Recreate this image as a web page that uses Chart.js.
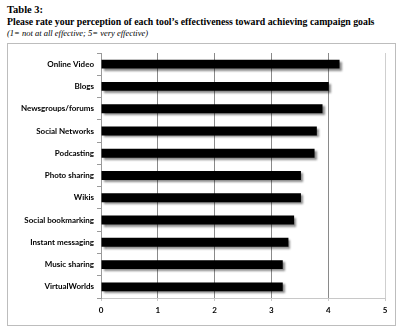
<!DOCTYPE html>
<html>
<head>
<meta charset="utf-8">
<script src="https://cdn.jsdelivr.net/npm/chart.js@4"></script>
<style>
  body { margin: 0; background: #fff; width: 400px; height: 331px; position: relative; overflow: hidden; }
  .hdr { position: absolute; left: 7px; font-family: "Liberation Serif", "DejaVu Serif", serif; color: #000; white-space: nowrap; }
  #t1 { top: 4px; font-size: 10.5px; font-weight: bold; }
  #t2 { top: 16px; font-size: 10.5px; font-weight: bold; }
  #t3 { top: 28px; font-size: 8.5px; font-style: italic; }
  #box { position: absolute; left: 7px; top: 43px; width: 387px; height: 281px; border: 1px solid #bdbdbd; }
</style>
</head>
<body>
<div class="hdr" id="t1">Table 3:</div>
<div class="hdr" id="t2">Please rate your perception of each tool’s effectiveness toward achieving campaign goals</div>
<div class="hdr" id="t3">(1= not at all effective; 5= very effective)</div>
<div id="box"><canvas id="chart" width="387" height="281"></canvas></div>
<script>
const tools = ['Online Video', 'Blogs', 'Newsgroups/forums', 'Social Networks', 'Podcasting',
  'Photo sharing', 'Wikis', 'Social bookmarking', 'Instant messaging', 'Music sharing', 'VirtualWorlds'];
const ratings = [4.2, 4.01, 3.9, 3.8, 3.76, 3.52, 3.52, 3.4, 3.3, 3.2, 3.2];
const scaleTicks = [0, 1, 2, 3, 4, 5];

// soft drop shadow under the bars, like the spreadsheet original
const barShadow = {
  id: 'barShadow',
  beforeDatasetsDraw(chart) {
    const ctx = chart.ctx;
    ctx.save();
    ctx.shadowColor = 'rgba(0,0,0,0.45)';
    ctx.shadowBlur = 2;
    ctx.shadowOffsetX = 2;
    ctx.shadowOffsetY = 2;
  },
  afterDatasetsDraw(chart) {
    chart.ctx.restore();
  }
};

const labelFont = { family: 'Lato, "Open Sans", sans-serif', size: 8, weight: 'bold' };

// fit the bold heading to the width it has in the original
const t2 = document.getElementById('t2');
const w = t2.getBoundingClientRect().width;
if (w > 0) t2.style.fontSize = (10.5 * 368 / w).toFixed(2) + 'px';

new Chart(document.getElementById('chart'), {
  type: 'bar',
  data: {
    labels: tools,
    datasets: [{
      data: ratings,
      backgroundColor: '#000',
      borderWidth: 0,
      barPercentage: 0.4,
      categoryPercentage: 1
    }]
  },
  options: {
    indexAxis: 'y',
    responsive: false,
    animation: false,
    layout: { padding: { top: 9, right: 10, left: 0, bottom: 0 } },
    plugins: { legend: { display: false }, tooltip: { enabled: false } },
    scales: {
      x: {
        min: 0,
        max: 5,
        afterBuildTicks: s => { s.ticks = scaleTicks.map(v => ({ value: v })); },
        afterFit: s => { s.height = 27; },
        border: { color: '#c8c8c8' },
        grid: {
          color: c => (c.tick && c.tick.value === 5) ? '#cfcfcf' : '#8a8a8a',
          tickLength: 3,
          tickColor: '#c8c8c8'
        },
        ticks: { color: '#000', font: labelFont, padding: 5 }
      },
      y: {
        afterFit: s => { s.width = 93; },
        border: { color: '#9a9a9a' },
        grid: { drawOnChartArea: false, offset: true, tickLength: 4, color: '#9a9a9a' },
        ticks: { color: '#000', font: labelFont, padding: 3 }
      }
    }
  },
  plugins: [barShadow]
});
</script>
</body>
</html>
